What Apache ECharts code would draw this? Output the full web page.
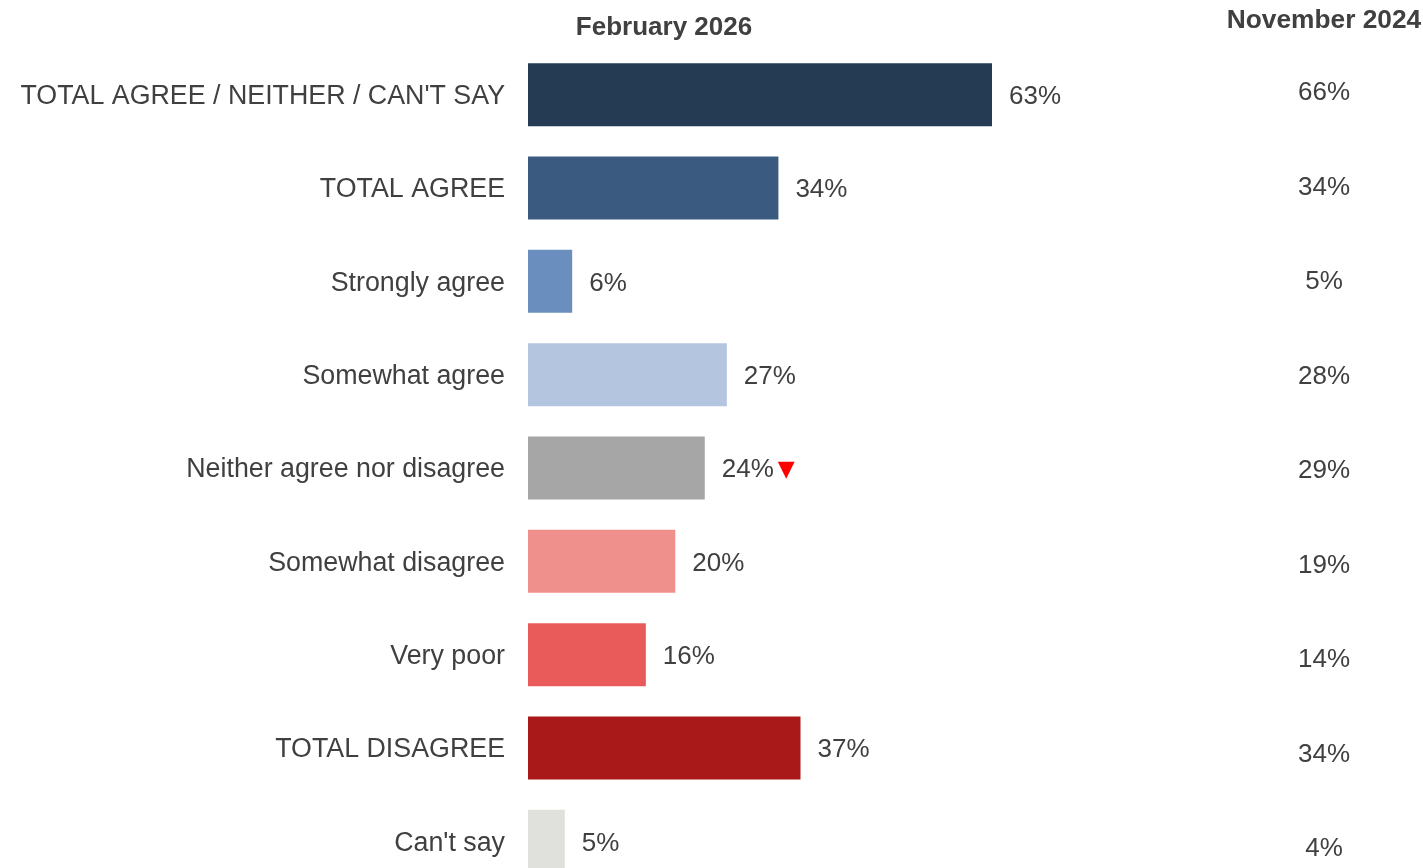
<!DOCTYPE html>
<html>
<head>
<meta charset="utf-8">
<script src="https://cdn.jsdelivr.net/npm/echarts@6/dist/echarts.min.js"></script>
<style>
  html, body { margin: 0; padding: 0; background: #ffffff; }
  #chart { width: 1423px; height: 868px; }
</style>
</head>
<body>
<div id="chart"></div>
<script>
// Survey response categories, top to bottom
const categories = [
  "TOTAL AGREE / NEITHER / CAN'T SAY",
  'TOTAL AGREE',
  'Strongly agree',
  'Somewhat agree',
  'Neither agree nor disagree',
  'Somewhat disagree',
  'Very poor',
  'TOTAL DISAGREE',
  "Can't say"
];

// February 2026 shares (%)
const feb2026 = [63, 34, 6, 27, 24, 20, 16, 37, 5];

// November 2024 shares (%)
const nov2024 = [66, 34, 5, 28, 29, 19, 14, 34, 4];

// Significant decrease flag versus previous wave
const sigDown = [false, false, false, false, true, false, false, false, false];

const barColors = [
  '#253A53', '#3A5A80', '#6A8FBE', '#B4C6DF', '#A6A6A6',
  '#F0908C', '#E85B5A', '#AA1919', '#E0E0DC'
];

const columnTitles = ['February 2026', 'November 2024'];

const textColor = '#404040';
const font = 'Arial, "Liberation Sans", sans-serif';

const chart = echarts.init(document.getElementById('chart'));

chart.setOption({
  animation: false,
  backgroundColor: '#ffffff',
  textStyle: { fontFamily: font },
  title: [
    {
      text: columnTitles[0],
      left: 659, top: 10, textAlign: 'center',
      textStyle: { fontSize: 26, fontWeight: 'bold', color: textColor, fontFamily: font }
    },
    {
      text: columnTitles[1],
      left: 1319, top: 3, textAlign: 'center',
      textStyle: { fontSize: 26.3, fontWeight: 'bold', color: textColor, fontFamily: font }
    }
  ],
  grid: [
    { left: 528, top: 48, width: 736.5, height: 840, containLabel: false, outerBoundsMode: 'none' },
    { left: 1324, top: 45.75, width: 10, height: 850.5, containLabel: false, outerBoundsMode: 'none' }
  ],
  xAxis: [
    { gridIndex: 0, type: 'value', min: 0, max: 100, show: false },
    { gridIndex: 1, type: 'value', min: 0, max: 1, show: false }
  ],
  yAxis: [
    {
      gridIndex: 0,
      type: 'category',
      inverse: true,
      data: categories,
      axisLine: { show: false },
      axisTick: { show: false },
      axisLabel: {
        margin: 23,
        formatter: v => '{c|' + v + '}',
        rich: {
          c: { color: textColor, fontSize: 26.8, fontFamily: font, padding: [4, 0, 0, 0] }
        }
      }
    },
    {
      gridIndex: 1,
      type: 'category',
      inverse: true,
      data: nov2024.map(v => v + '%'),
      axisLine: { show: false },
      axisTick: { show: false },
      axisLabel: { color: textColor, fontSize: 26, margin: 0, align: 'center', fontFamily: font }
    }
  ],
  series: [
    {
      type: 'bar',
      xAxisIndex: 0,
      yAxisIndex: 0,
      barWidth: 63,
      data: feb2026.map((v, i) => ({ value: v, itemStyle: { color: barColors[i] } })),
      label: {
        show: true,
        position: 'right',
        distance: 17,
        color: textColor,
        fontSize: 26,
        fontFamily: font,
        padding: [4, 0, 0, 0],
        formatter: p => sigDown[p.dataIndex] ? p.value + '%{down|▼}' : p.value + '%',
        rich: {
          down: { color: '#FF0000', fontSize: 22, fontFamily: 'DejaVu Sans', padding: [0, 0, 0, 4] }
        }
      }
    }
  ]
});
</script>
</body>
</html>
